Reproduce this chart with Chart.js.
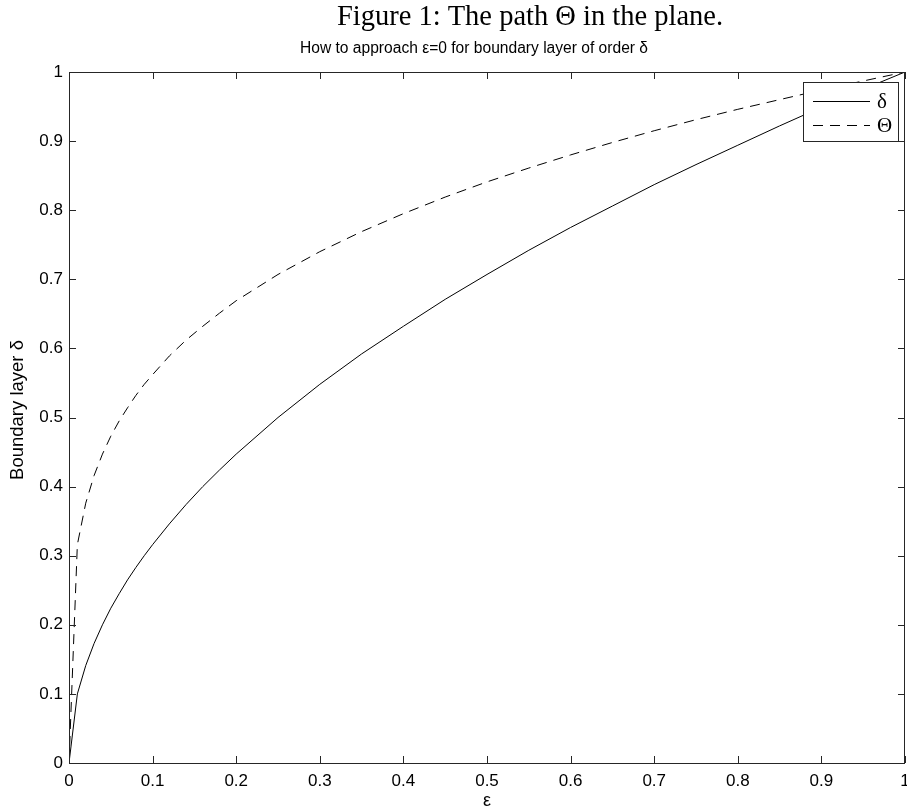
<!DOCTYPE html>
<html>
<head>
<meta charset="utf-8">
<script src="https://cdn.jsdelivr.net/npm/chart.js@4.4.1/dist/chart.umd.min.js"></script>
<style>
  html, body { margin: 0; padding: 0; background: #ffffff; }
  #wrap { position: relative; width: 907px; height: 809px; }
</style>
</head>
<body>
<div id="wrap"><canvas id="c" width="907" height="809"></canvas></div>
<script>
// ---- data ----
const figureTitle = "Figure 1: The path \u0398 in the plane.";
const plotTitle = "How to approach \u03b5=0 for boundary layer of order \u03b4";
const xAxisLabel = "\u03b5";
const yAxisLabel = "Boundary layer \u03b4";
const seriesNames = ["\u03b4", "\u0398"];

const epsValues = [0, 0.01, 0.02, 0.03, 0.04, 0.05, 0.06, 0.07, 0.08, 0.09, 0.10,
  0.12, 0.14, 0.16, 0.18, 0.20, 0.25, 0.30, 0.35, 0.40, 0.45, 0.50, 0.55,
  0.60, 0.65, 0.70, 0.75, 0.80, 0.85, 0.90, 0.95, 1.00];
const deltaValues = [0, 0.100, 0.141, 0.173, 0.200, 0.224, 0.245, 0.265, 0.283, 0.300, 0.316,
  0.346, 0.374, 0.400, 0.424, 0.447, 0.500, 0.548, 0.592, 0.632, 0.671, 0.707, 0.742,
  0.775, 0.806, 0.837, 0.866, 0.894, 0.922, 0.949, 0.975, 1.000];
const thetaValues = [0, 0.316, 0.376, 0.416, 0.447, 0.473, 0.495, 0.514, 0.532, 0.548, 0.562,
  0.589, 0.612, 0.632, 0.651, 0.669, 0.707, 0.740, 0.769, 0.795, 0.819, 0.841, 0.861,
  0.880, 0.898, 0.915, 0.931, 0.946, 0.960, 0.974, 0.987, 1.000];
const tickValues = [0, 0.1, 0.2, 0.3, 0.4, 0.5, 0.6, 0.7, 0.8, 0.9, 1];
const tickLabels = ["0", "0.1", "0.2", "0.3", "0.4", "0.5", "0.6", "0.7", "0.8", "0.9", "1"];

const toPoints = (xs, ys) => xs.map((x, i) => ({ x: x, y: ys[i] }));
const labelFor = v => { const i = tickValues.indexOf(v); return i >= 0 ? tickLabels[i] : ""; };

const AXIS_COLOR = "#262626";
const SANS = "'Liberation Sans', Arial, sans-serif";
const SERIF = "'Liberation Serif', 'Times New Roman', serif";

const decorPlugin = {
  id: "decor",
  afterDatasetsDraw(chart) {
    const ctx = chart.ctx;
    const a = chart.chartArea;
    const xs = chart.scales.x, ys = chart.scales.y;
    const tl = 7;
    ctx.save();
    ctx.strokeStyle = AXIS_COLOR;
    ctx.lineWidth = 1;
    ctx.setLineDash([]);
    // box
    ctx.strokeRect(Math.round(a.left) + 0.5, Math.round(a.top) + 0.5,
      Math.round(a.right - a.left) - 1, Math.round(a.bottom - a.top));
    // inward ticks
    ctx.beginPath();
    tickValues.forEach(v => {
      const px = Math.round(xs.getPixelForValue(v)) + 0.5;
      ctx.moveTo(px, a.bottom); ctx.lineTo(px, a.bottom - tl);
      ctx.moveTo(px, a.top); ctx.lineTo(px, a.top + tl);
      const py = Math.round(ys.getPixelForValue(v)) + 0.5;
      ctx.moveTo(a.left, py); ctx.lineTo(a.left + tl, py);
      ctx.moveTo(a.right, py); ctx.lineTo(a.right - tl, py);
    });
    ctx.stroke();

    // legend box
    const lx = 803.5, ly = 82.5, lw = 95, lh = 59;
    ctx.fillStyle = "#ffffff";
    ctx.fillRect(lx, ly, lw, lh);
    ctx.strokeRect(lx, ly, lw, lh);
    chart.data.datasets.forEach((ds, i) => {
      const y = Math.round(ly + 18 + i * 24) + 0.5;
      ctx.beginPath();
      ctx.strokeStyle = ds.borderColor;
      ctx.lineWidth = ds.borderWidth;
      ctx.setLineDash(ds.borderDash || []);
      ctx.moveTo(813, y); ctx.lineTo(870, y);
      ctx.stroke();
      ctx.setLineDash([]);
      ctx.fillStyle = "#000";
      ctx.font = "21px " + SERIF;
      ctx.textAlign = "left";
      ctx.textBaseline = "middle";
      ctx.fillText(ds.label, 877, y + 1);
    });

    // titles
    ctx.fillStyle = "#000";
    ctx.textAlign = "center";
    ctx.textBaseline = "alphabetic";
    ctx.font = "28.5px " + SERIF;
    ctx.fillText(figureTitle, 530, 25);
    ctx.font = "15.6px " + SANS;
    ctx.fillText(plotTitle, 474, 53);

    // y axis title
    ctx.save();
    ctx.translate(18, 410);
    ctx.rotate(-Math.PI / 2);
    ctx.textBaseline = "middle";
    ctx.font = "18.5px " + SANS;
    ctx.fillText(yAxisLabel, 0, 0);
    ctx.restore();

    // x axis title
    ctx.textBaseline = "middle";
    ctx.font = "18px " + SANS;
    ctx.fillText(xAxisLabel, (a.left + a.right) / 2, 801);
    ctx.restore();
  }
};

new Chart(document.getElementById("c"), {
  type: "line",
  data: {
    datasets: [
      { label: seriesNames[0], data: toPoints(epsValues, deltaValues),
        borderColor: "#000000", borderWidth: 1, pointRadius: 0, tension: 0, fill: false },
      { label: seriesNames[1], data: toPoints(epsValues, thetaValues),
        borderColor: "#000000", borderWidth: 1, borderDash: [10, 7], pointRadius: 0, tension: 0, fill: false }
    ]
  },
  options: {
    responsive: false,
    animation: false,
    devicePixelRatio: 1,
    layout: { padding: { top: 72, right: 2, left: 0, bottom: 0 } },
    plugins: { legend: { display: false }, title: { display: false }, tooltip: { enabled: false } },
    scales: {
      x: {
        type: "linear", min: 0, max: 1,
        afterBuildTicks: s => { s.ticks = tickValues.map(v => ({ value: v })); },
        afterFit: s => { s.height = 46; s.paddingLeft = 0; s.paddingRight = 0; },
        grid: { display: false, drawTicks: false },
        border: { display: false },
        ticks: { color: "#000", padding: 8, maxRotation: 0, autoSkip: false,
          callback: v => labelFor(v),
          font: { family: SANS, size: 17 } },
        title: { display: false }
      },
      y: {
        type: "linear", min: 0, max: 1,
        afterBuildTicks: s => { s.ticks = tickValues.map(v => ({ value: v })); },
        afterFit: s => { s.width = 69; s.paddingTop = 0; s.paddingBottom = 0; },
        grid: { display: false, drawTicks: false },
        border: { display: false },
        ticks: { color: "#000", padding: 6, autoSkip: false,
          callback: v => labelFor(v),
          font: { family: SANS, size: 17 } },
        title: { display: false }
      }
    }
  },
  plugins: [decorPlugin]
});
</script>
</body>
</html>
